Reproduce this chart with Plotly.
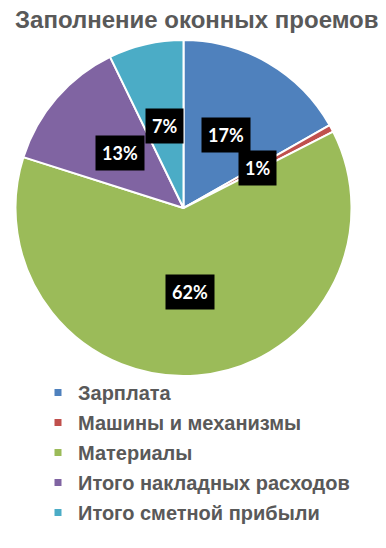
import math
import plotly.graph_objects as go

categories = ["Зарплата", "Машины и механизмы", "Материалы",
              "Итого накладных расходов", "Итого сметной прибыли"]
values = [16.8, 0.7, 62.4, 12.9, 7.2]
colors = ["#4F81BD", "#C0504D", "#9BBB59", "#8064A2", "#4BACC6"]
title_text = "Заполнение оконных проемов"

W, H = 386, 548
cx_px, cy_px, r_px = 183.5, 208.0, 168.0

fig = go.Figure()
fig.add_trace(go.Pie(
    labels=categories, values=values, sort=False, direction="clockwise",
    rotation=0, textinfo="none", hoverinfo="label+percent",
    marker=dict(colors=colors, line=dict(color="white", width=2)),
    domain=dict(x=[(cx_px - r_px) / W, (cx_px + r_px) / W],
                y=[1 - (cy_px + r_px) / H, 1 - (cy_px - r_px) / H]),
    showlegend=False,
))

# legend entries (separate groups to get the wider row spacing)
for i, (cat, col) in enumerate(zip(categories, colors)):
    fig.add_trace(go.Scatter(
        x=[None], y=[None], mode="markers", name=cat,
        marker=dict(symbol="square", size=7, color=col),
        legendgroup=f"g{i}", showlegend=True,
    ))

# percentage labels at half radius, middle angle of each slice
total = sum(values)
annotations = []
cum = 0.0
for v in values:
    mid = (cum + v / 2) / total * 2 * math.pi
    cum += v
    px = cx_px + 0.5 * r_px * math.sin(mid)
    py = cy_px - 0.5 * r_px * math.cos(mid)
    annotations.append(dict(
        x=px / W, y=1 - py / H, xref="paper", yref="paper",
        text=f"{round(v / total * 100)}%", showarrow=False,
        font=dict(family="Lato", size=18, color="white", weight="bold"),
        bgcolor="black", borderpad=6, xanchor="center", yanchor="middle",
    ))

annotations.append(dict(
    x=196.5 / W, y=1 - 20 / H, xref="paper", yref="paper", text=f"<b>{title_text}</b>",
    showarrow=False, xanchor="center", yanchor="middle",
    font=dict(family="Liberation Sans", size=24, color="#595959"),
))

fig.update_layout(
    width=W, height=H, margin=dict(l=0, r=0, t=0, b=0),
    paper_bgcolor="white", plot_bgcolor="white",
    annotations=annotations,
    xaxis=dict(visible=False), yaxis=dict(visible=False),
    legend=dict(x=38 / W, y=1 - 373 / H, xanchor="left", yanchor="top",
                tracegroupgap=1, bgcolor="rgba(0,0,0,0)",
                font=dict(family="Liberation Sans", size=20, color="#595959",
                          weight="bold")),
)

fig.write_html("out.html", config={"displayModeBar": False},
               post_script="document.body.style.margin='0';")
